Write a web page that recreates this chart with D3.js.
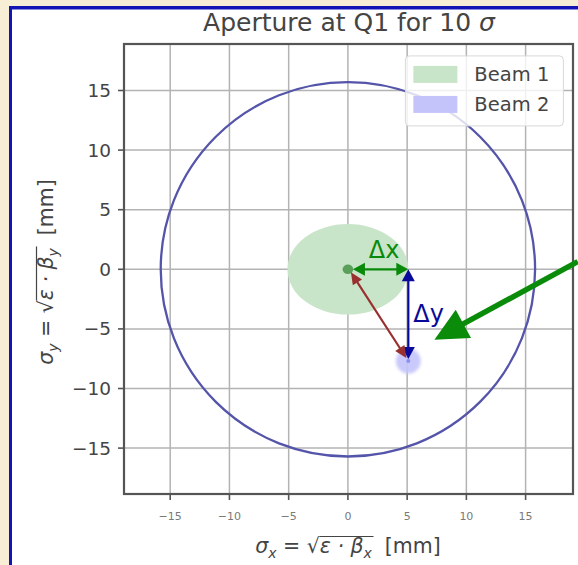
<!DOCTYPE html>
<html><head><meta charset="utf-8">
<script src="https://cdn.jsdelivr.net/npm/d3@7"></script>
<style>
html,body{margin:0;padding:0;background:#f7eed6;}
svg{display:block;}
text{font-family:"DejaVu Sans",sans-serif;}
</style></head>
<body>
<svg id="c" width="578" height="565"></svg>
<script>
// ---- data ----
const titleText = "Aperture at Q1 for 10 ";
const xTicks = [-15, -10, -5, 0, 5, 10, 15];
const yTicks = [-15, -10, -5, 0, 5, 10, 15];
const xDomain = [-18.9, 19.0];
const yDomain = [-18.85, 18.9];
const apertureRadius = [15.8];
const beamNames = ["Beam 1", "Beam 2"];
const beamCenterX = [0, 5.1];
const beamCenterY = [0, -7.7];
const beamSigmaX = [5.1, 1.05];
const beamSigmaY = [3.8, 1.05];
const beamColors = ["#c9e5c9", "#c4c4fb"];
const arrowLabels = ["Δx", "Δy"];
const pointerFrom = [19.4, 0.65];
const pointerTo = [7.3, -5.9];

const svg = d3.select("#c");
// panel
svg.append("rect").attr("x", 0).attr("y", 0).attr("width", 578).attr("height", 565).attr("fill", "#f8eed5");
svg.append("rect").attr("x", 10.5).attr("y", 7.5).attr("width", 600).attr("height", 600)
  .attr("fill", "#fff").attr("stroke", "#1414b4").attr("stroke-width", 3);
svg.append("line").attr("x1", 12).attr("x2", 578).attr("y1", 9.5).attr("y2", 9.5).attr("stroke", "#8c8ce0").attr("stroke-width", 1);

const L = 124, R = 573, T = 44, B = 494;
const x = d3.scaleLinear().domain(xDomain).range([L, R]);
const y = d3.scaleLinear().domain(yDomain).range([B, T]);

// grid
const g = svg.append("g");
g.selectAll(".gx").data(xTicks).join("line")
  .attr("x1", d => x(d)).attr("x2", d => x(d)).attr("y1", T).attr("y2", B)
  .attr("stroke", "#b3b3b3").attr("stroke-width", 1.5);
g.selectAll(".gy").data(yTicks).join("line")
  .attr("y1", d => y(d)).attr("y2", d => y(d)).attr("x1", L).attr("x2", R)
  .attr("stroke", "#b3b3b3").attr("stroke-width", 1.5);

// beams
const beams = beamNames.map((n, i) => ({n, cx: beamCenterX[i], cy: beamCenterY[i], sx: beamSigmaX[i], sy: beamSigmaY[i], c: beamColors[i]}));
const defs = svg.append("defs");
defs.append("filter").attr("id", "blur").append("feGaussianBlur").attr("stdDeviation", 1.5);
svg.selectAll(".beam").data(beams).join("ellipse")
  .attr("cx", d => x(d.cx)).attr("cy", d => y(d.cy))
  .attr("rx", d => x(d.cx + d.sx) - x(d.cx)).attr("ry", d => y(d.cy) - y(d.cy + d.sy))
  .attr("fill", d => d.c).attr("opacity", (d, i) => i ? 0.9 : 1)
  .attr("filter", (d, i) => i ? "url(#blur)" : null);
// beam centre dot
svg.append("ellipse").attr("cx", x(beamCenterX[0])).attr("cy", y(beamCenterY[0]))
  .attr("rx", x(0.45) - x(0)).attr("ry", y(0) - y(0.4)).attr("fill", "#3f8f3f").attr("opacity", 0.8);
svg.append("circle").attr("cx", x(beamCenterX[1])).attr("cy", y(beamCenterY[1])).attr("r", 2).attr("fill", "#6a6af0").attr("opacity", 0.6);

// aperture
svg.append("circle").attr("cx", x(0)).attr("cy", y(0))
  .attr("r", x(apertureRadius[0]) - x(0))
  .attr("fill", "none").attr("stroke", "#5454aa").attr("stroke-width", 2.3);

// arrows
function head(px, py, angle, len, wid, color) {
  const ca = Math.cos(angle), sa = Math.sin(angle);
  const bx = px - ca * len, by = py - sa * len;
  svg.append("path").attr("d", `M${px},${py}L${bx - sa * wid / 2},${by + ca * wid / 2}L${bx + sa * wid / 2},${by - ca * wid / 2}Z`).attr("fill", color);
}
function dblArrow(x1, y1, x2, y2, color, w, hl, hw) {
  const a = Math.atan2(y2 - y1, x2 - x1);
  svg.append("line").attr("x1", x1 + Math.cos(a) * hl * 0.8).attr("y1", y1 + Math.sin(a) * hl * 0.8)
    .attr("x2", x2 - Math.cos(a) * hl * 0.8).attr("y2", y2 - Math.sin(a) * hl * 0.8)
    .attr("stroke", color).attr("stroke-width", w);
  head(x2, y2, a, hl, hw, color);
  head(x1, y1, a + Math.PI, hl, hw, color);
}
const ox = x(beamCenterX[0]) + 4, oy = y(beamCenterY[0]);
const bx2 = x(beamCenterX[1]), by2 = y(beamCenterY[1]);
dblArrow(ox + 1, oy, bx2, oy, "#0a8a0a", 2.2, 12, 13);
dblArrow(bx2, oy, bx2, by2 - 2, "#0a0a9a", 2.2, 12, 13);
dblArrow(ox - 1, oy + 3, bx2 - 2, by2 - 3, "#993030", 2.2, 12, 11);
svg.append("text").attr("x", (ox + bx2) / 2 + 4).attr("y", oy - 11).attr("text-anchor", "middle")
  .attr("font-size", 24).attr("fill", "#0a8a0a").text(arrowLabels[0]);
svg.append("text").attr("x", bx2 + 5).attr("y", (oy + by2) / 2 + 7)
  .attr("font-size", 24).attr("fill", "#0a0a9a").text(arrowLabels[1]);

// axes frame
svg.append("rect").attr("x", L).attr("y", T).attr("width", R - L).attr("height", B - T)
  .attr("fill", "none").attr("stroke", "#555").attr("stroke-width", 2.2);

// ticks
svg.selectAll(".tx").data(xTicks).join("line")
  .attr("x1", d => x(d)).attr("x2", d => x(d)).attr("y1", B).attr("y2", B + 6)
  .attr("stroke", "#555").attr("stroke-width", 1.6);
svg.selectAll(".txl").data(xTicks).join("text")
  .attr("x", d => x(d)).attr("y", B + 26).attr("text-anchor", "middle")
  .attr("font-size", 11).attr("fill", "#7a7a7a").text(d => d < 0 ? "\u2212" + Math.abs(d) : d);
svg.selectAll(".ty").data(yTicks).join("line")
  .attr("y1", d => y(d)).attr("y2", d => y(d)).attr("x1", L - 6).attr("x2", L)
  .attr("stroke", "#555").attr("stroke-width", 1.6);
svg.selectAll(".tyl").data(yTicks).join("text")
  .attr("x", L - 13).attr("y", d => y(d) + 6.5).attr("text-anchor", "end")
  .attr("font-size", 18.5).attr("fill", "#444").text(d => d < 0 ? "\u2212" + Math.abs(d) : d);

// title
const tt = svg.append("text").attr("x", 349).attr("y", 31).attr("text-anchor", "middle")
  .attr("font-size", 25).attr("fill", "#444");
tt.append("tspan").text(titleText);
tt.append("tspan").attr("font-style", "italic").text("σ");

// axis labels with radical
function axisLabel(gp, sub) {
  const t = gp.append("text").attr("font-size", 20.5).attr("fill", "#444").attr("x", 0).attr("y", 0);
  t.append("tspan").attr("font-style", "italic").text("σ");
  t.append("tspan").attr("font-style", "italic").attr("font-size", 14).attr("dy", 5).text(sub);
  t.append("tspan").attr("dy", -5).text(" = √");
  t.append("tspan").attr("font-style", "italic").text("ε · β");
  t.append("tspan").attr("font-style", "italic").attr("font-size", 14).attr("dy", 5).text(sub);
  t.append("tspan").attr("dy", -5).text("\u00a0\u00a0[mm]");
  return t;
}
function overline(t, gp) {
  const tsp = t.selectAll("tspan").nodes();
  const b3 = tsp[2].getBBox(), b5 = tsp[4].getBBox();
  gp.append("line").attr("x1", b3.x + b3.width - 1).attr("x2", b5.x + b5.width + 1)
    .attr("y1", b3.y + 2.5).attr("y2", b3.y + 2.5).attr("stroke", "#444").attr("stroke-width", 1.2);
}
const xl = svg.append("g");
const xt = axisLabel(xl, "x");
let bb = xt.node().getBBox();
xt.attr("x", -bb.width / 2);
xl.attr("transform", `translate(${348},${553})`);
overline(xt, xl);
const yl = svg.append("g");
const yt = axisLabel(yt_dummy = yl, "y");
bb = yt.node().getBBox();
yt.attr("x", -bb.width / 2);
yl.attr("transform", `translate(${53},${272}) rotate(-90)`);
overline(yt, yl);

// legend
const lg = svg.append("g").attr("transform", `translate(${x(4.85)},${y(17.9)})`);
lg.append("rect").attr("width", 158).attr("height", 70).attr("rx", 4)
  .attr("fill", "#fff").attr("fill-opacity", 0.8).attr("stroke", "#d8d8d8");
lg.selectAll(".lp").data(beams).join("rect")
  .attr("x", 8).attr("y", (d, i) => 10 + i * 30).attr("width", 44).attr("height", 17).attr("fill", d => d.c);
lg.selectAll(".lt").data(beams).join("text")
  .attr("x", 69).attr("y", (d, i) => 25 + i * 30).attr("font-size", 19.5).attr("fill", "#444").text(d => d.n);

// pointer arrow (annotation)
const px1 = x(pointerFrom[0]), py1 = y(pointerFrom[1]), px2 = x(pointerTo[0]), py2 = y(pointerTo[1]);
const pa = Math.atan2(py2 - py1, px2 - px1);
svg.append("line").attr("x1", px1).attr("y1", py1).attr("x2", px2 - Math.cos(pa) * 25).attr("y2", py2 - Math.sin(pa) * 25)
  .attr("stroke", "#0a8c0a").attr("stroke-width", 5.5);
head(px2, py2, pa, 33, 32, "#0a8c0a");
</script>
</body></html>
